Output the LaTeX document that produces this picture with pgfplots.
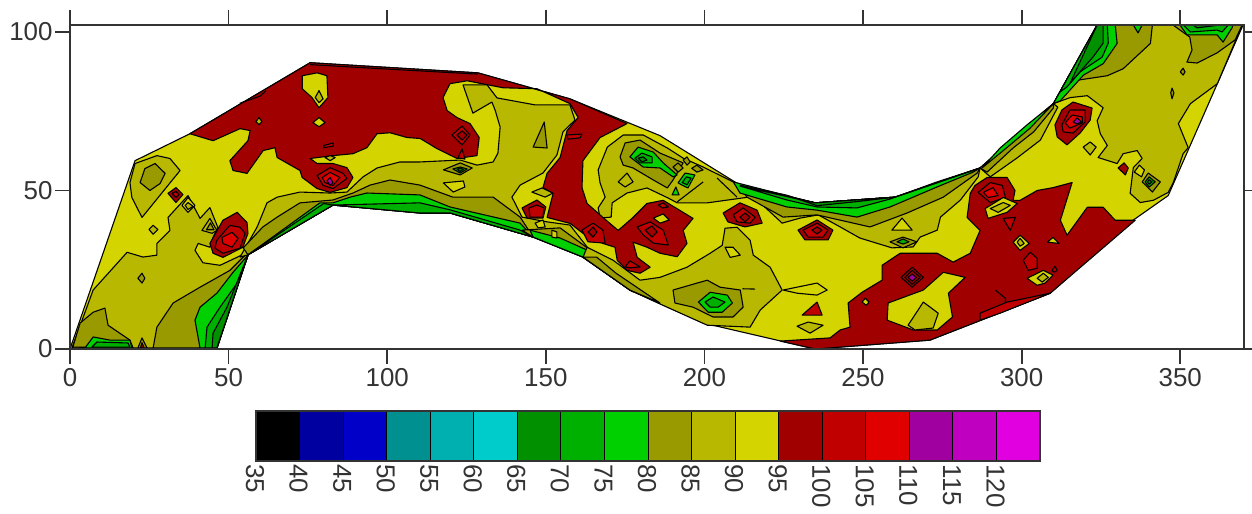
\documentclass[border=0pt]{standalone}
\usepackage{pgfplots}
\pgfplotsset{compat=1.18}
\usepackage{fontspec}
\setmainfont{Liberation Sans}
\definecolor{tx}{HTML}{333333}
\definecolor{c35}{HTML}{000000}
\definecolor{c40}{HTML}{0000A0}
\definecolor{c45}{HTML}{0000C8}
\definecolor{c50}{HTML}{009090}
\definecolor{c55}{HTML}{00B0B0}
\definecolor{c60}{HTML}{00CCCC}
\definecolor{gC}{HTML}{009000}
\definecolor{gB}{HTML}{00B000}
\definecolor{gA}{HTML}{00D000}
\definecolor{yC}{HTML}{999900}
\definecolor{yB}{HTML}{B8B800}
\definecolor{yY}{HTML}{D4D400}
\definecolor{rA}{HTML}{A00000}
\definecolor{rB}{HTML}{C00000}
\definecolor{rC}{HTML}{E00000}
\definecolor{pA}{HTML}{A000A0}
\definecolor{pB}{HTML}{C000C0}
\definecolor{pC}{HTML}{E000E0}
\newcommand{\p}[2]{\addplot[fill=#1,draw=black,line width=1.1bp,line join=round] coordinates {#2} --cycle;}
\newcommand{\li}[1]{\addplot[draw=black,line width=1.1bp,line join=round] coordinates {#1};}
\newcommand{\bin}[2]{\addplot[fill=#1,draw=black,line width=0.8bp] coordinates {(#2,0)(#2+5,0)(#2+5,1)(#2,1)} --cycle;}
\begin{document}
\begin{tikzpicture}
\useasboundingbox (0,0) rectangle (1252bp,514bp);
\begin{axis}[
  at={(70bp,165bp)},anchor=south west,scale only axis,width=1174bp,height=324bp,
  xmin=0,xmax=370.1,ymin=0,ymax=102.2,axis on top,
  xtick={0,50,...,350},ytick={0,50,100},
  tick align=outside,major tick length=15bp,
  axis line style={color=tx,line width=1.8bp},
  tick style={color=tx,line width=1.7bp},
  tick label style={font=\fontsize{26}{28}\selectfont,text=tx,/pgf/number format/assume math mode=true},
  xticklabel pos=bottom,yticklabel pos=left,
  x tick label style={yshift=-1bp},y tick label style={xshift=1bp},
]
% whole domain, 90-95 band
\p{yY}{(0,0)(20.5,59.4)(37.8,67.9)(75.7,90.3)(128.6,87.1)(157.6,78.9)(186,67.3)(211.2,51.7)(234.9,46.1)(260.1,47.9)(286.9,57.1)(310,77.4)(323.8,102.2)(369.8,102.2)(346.2,48.4)(335.1,40.6)(309,17.6)(271.1,2.8)(234.9,0)(199.6,8.2)(176.5,18.6)(161.7,29)(146,35.3)(119.8,42.9)(82.9,45.4)(56.1,29.7)(46.3,0)}
% lower-left region
\p{yB}{(0.6,0.3)(7.3,18.6)(18,30.5)(23,29)(27.4,29.6)(27.4,33.3)(31.5,37.4)(30.9,41.5)(37.2,48.4)(41,41.2)(44.1,44.6)(46.6,38.4)(45.1,35.2)(44.1,32.1)(40.4,33.3)(39.4,31.1)(41.9,27.2)(47.3,26.4)(52.6,28.9)(55.2,30.2)(56.1,29.6)(46.3,0.3)}
\p{yC}{(26.2,0.3)(27.4,6.9)(32.5,14.5)(41,19.5)(50.4,24.8)(55.2,29.6)(56.1,29.6)(46.3,0.3)}
\p{yC}{(0.9,0.6)(3.2,8.2)(7.3,11.6)(11,12.9)(12,7.5)(18.9,2.8)(19.9,0.3)}
\p{gA}{(4.7,0.3)(7.3,3.8)(12.6,2.8)(18.9,2.8)(19.5,0.3)}
\p{gB}{(6.9,0.6)(8.5,2.2)(18.3,1.9)(18.9,0.6)}
\p{yC}{(21.4,0.3)(22.7,3.5)(24.3,0.3)}
\p{rA}{(22.2,0.3)(22.7,2)(23.4,0.3)}
\p{gA}{(41,0.3)(39.4,9.1)(41,13.2)(46.3,17.6)(51.4,24.2)(56.1,29.6)(46.3,0.3)}
\p{gB}{(42.6,0.3)(43.2,6.9)(47.3,13.2)(52.7,20.8)(56.1,29.6)(46.3,0.3)}
\p{gC}{(44.8,0.3)(45.1,5)(49.5,13.2)(56.1,29.6)(46.3,0.3)}
\p{yB}{(18.9,52.5)(20.5,58.5)(27.4,61)(31.5,60.1)(34.7,56.3)(22.7,41.5)(19.5,47.8)}
\p{yC}{(22.1,52.5)(23.6,56.9)(26.8,58.5)(30,55.4)(28.4,52.2)(25.2,50)}
\p{rA}{(30.9,49.1)(33.4,50.9)(35.6,48.7)(33.4,46.2)}
\p{rB}{(32.2,49.1)(33.4,49.7)(34.4,48.7)(33.4,47.8)}
\p{yY}{(35.3,45.3)(37.2,47.8)(39.4,45.3)(37.2,43.1)}
\p{yB}{(36.3,45.3)(37.2,46.2)(38.8,45)(37.2,44)}
\p{yB}{(24.9,37.7)(26.2,39)(27.7,37.7)(26.2,36.2)}
\p{yC}{(21.4,22.3)(22.7,23.9)(23.6,22.3)(22.7,20.8)}
% lower band, x 56 to 163
\p{yB}{(56.1,29.7)(53.6,29)(59,38.5)(62.1,46.1)(65.3,47.9)(72.5,49.5)(82,49.2)(87.3,49.5)(92.4,54.3)(96.8,57.1)(104,59)(110.3,59)(123,59.6)(128.3,58)(133.4,59)(134.9,61.8)(135.6,70)(134,75.4)(133,77.9)(127,74.4)(123.9,83.3)(131.5,83.3)(134.6,79.2)(146.6,77)(157.6,77)(159.2,72.2)(155.4,68.5)(153.5,61.2)(149.1,55.5)(141.9,51.7)(139.3,47.9)(140.9,44.8)(142.5,41.6)(150.4,40.1)(157.6,39.1)(163,32.2)(161.7,29)(146,35.3)(119.8,42.9)(110.3,42.9)(82.9,45.4)}
\p{yC}{(56.1,29.7)(54.6,31.9)(60.8,38.5)(65.3,41.6)(72.5,46.1)(82.9,47)(89.2,49.2)(94.6,51.7)(100.9,53.3)(110.3,51.7)(120.7,47.9)(133.4,47.9)(141.9,41.6)(146,35.3)(119.8,42.9)(110.3,42.9)(82.9,45.4)}
\p{gA}{(56.1,29.7)(78.8,46.1)(82.9,46.1)(88.3,47.9)(93.6,49.2)(110.3,48.6)(119.8,44.8)(141.9,39.7)(146,35.3)(119.8,42.9)(110.3,42.9)(82.9,45.4)}
\p{gB}{(82.9,45.4)(110.3,46.1)(119.8,43.9)(141.9,37.5)(146,35.3)(119.8,42.9)(110.3,42.9)}
\p{gB}{(56.1,29.7)(80,45.9)(82.9,45.4)}
\p{yC}{(142.5,37.5)(154.5,38.2)(164,31.2)(173.4,22.7)(186,14.5)(176.5,18.6)(161.7,29)(146,35.3)}
\p{gA}{(145,37.5)(154.5,35)(163,31.2)(169.3,24.9)(177.5,18)(176.5,18.6)(161.7,29)(146,35.3)}
\p{yY}{(146.6,39.7)(149.1,40.7)(149.8,38.5)(147.6,38.2)}
\p{yY}{(151.9,37.5)(153.5,36.9)(153.5,35)(151.9,35.3)}
\p{yC}{(146,63.7)(149.5,71.6)(150.4,63.4)}
\p{yC}{(117.7,56.5)(123,58.7)(126.8,57.1)(123,54.9)}
\p{gB}{(120.7,56.8)(123,57.4)(125.2,56.8)(123,55.5)}
\p{gC}{(122,56.7)(123,57)(124,56.7)(123,56)}
\p{yY}{(117.7,52.4)(124,53)(124.5,51.1)(120.8,49.5)}
\p{yB}{(145.6,49.5)(148.8,50.8)(152.3,49.2)(149.8,47.9)}
% lower middle region
\p{yB}{(163,32.1)(171.2,28)(179.7,21.7)(186,22.6)(194.5,25.8)(201.8,30.2)(205.6,32.7)(206.5,38.1)(210.3,38.4)(214.4,34.3)(215.4,29.6)(220.7,25.8)(224.5,18.6)(217.6,12.3)(214.4,6.9)(200.9,7.5)(186,14.2)(176.5,18.6)(161.7,28.9)}
\p{yC}{(176.5,18.6)(161.7,29)(166,29)(172,24)(186,14.5)}
\p{yY}{(206.5,32.1)(208.1,28.9)(211.3,29.6)(209,32.1)}
\p{yC}{(190.1,18.6)(197.7,20.8)(200.9,21.7)(204.9,19.5)(211.3,18.6)(212.2,13.2)(209,10.1)(202.7,10.1)(196.4,13.2)(190.7,14.5)}
\p{gA}{(198.1,14.8)(201.8,17.9)(207.2,17)(208.8,14.5)(205.6,11.6)(201.2,11.6)}
\p{gB}{(200.2,14.8)(202.7,16.4)(206.5,14.8)(204.3,13.2)(201.8,13.2)}
\li{(212,19)(216,18.9)}
\p{yY}{(224.8,18.6)(235.5,20.8)(238.7,18.6)(235.5,17)(229.2,17.6)}
\p{rB}{(230.8,10.7)(235.5,14.8)(237.1,10.7)}
\p{yB}{(229.2,7.2)(232.7,8.5)(237.4,7.5)(233.3,5)}
% island between 165 and 215
\p{yB}{(166.5,56.5)(169.4,63.7)(174.4,67.5)(180.7,67.5)(188.3,63.4)(193.3,60.2)(199.6,57.4)(209.1,52.7)(213.9,47.9)(200.9,46.1)(191.4,46.1)(188.6,47.6)(181.9,50.8)(175.6,49.2)(170.9,46.1)(170.6,41.6)(167.1,41.3)(166.5,44.5)(168.7,47.9)(167.1,52.4)}
\p{yC}{(173.4,60.6)(175,65)(179.7,65.9)(186,61.8)(193.3,58.7)(190.1,53.3)(188.3,50.8)(183.9,53.3)(177.5,57.1)(174.4,58)}
\p{gA}{(176.5,60.6)(179.1,63.7)(183.9,62.1)(187,58.7)(191.4,54.9)(190.1,54.3)(186,57.1)(180.7,57.4)}
\p{gB}{(178.1,60.2)(180.3,61.8)(183.5,60.6)(183.5,58.7)(179.7,58.7)}
\p{gC}{(179.1,60.2)(180.7,60.6)(181.9,59.6)(180.3,59)}
\p{gA}{(191.7,52.4)(193.9,55.5)(197,54.9)(194.8,50.8)(192.9,51.7)}
\p{gB}{(193,52.5)(194.3,54.3)(195.8,53.9)(194.5,51.8)}
\p{gA}{(189.8,48.6)(191,51.1)(192,48.6)}
\p{yC}{(190.1,57.4)(191.7,58.7)(193.3,57.1)(191.7,55.8)}
\p{yC}{(193.3,59.6)(194.5,60.6)(195.5,59)(194.5,58)}
\p{yC}{(196,57)(197.6,58)(199.6,56.5)(197.6,55.8)}
\p{yB}{(172.8,52.7)(175.6,55.5)(177.5,52.7)(175,51.1)}
\li{(204,53.9)(210.3,47.9)}
\li{(199.6,52.7)(191.4,46.4)}
% upper band, x 211 to 287
\p{yB}{(211.2,51.7)(234.9,46.1)(260.1,47.9)(286.9,57.1)(286.3,54.3)(280.7,47)(274.4,41.6)(273.4,37.5)(268,35.3)(265.8,32.2)(259.1,31.9)(249,35)(242.8,38.5)(235.9,42.3)(230.2,41.3)(224.5,39.7)(217.6,46.1)(214.4,47.9)}
\p{yC}{(211.2,51.1)(234.9,46.1)(260.1,47.9)(286.9,57.1)(286,55.5)(275.3,47.9)(263.9,42.9)(252.2,38.5)(235.5,42.3)(224.8,41.6)(213.4,47.9)}
\p{gA}{(209.1,52.7)(234.9,46.1)(260.1,47.9)(286.9,57.1)(284.7,55.8)(273.3,51.1)(258.5,44.8)(248.1,41.6)(235.5,43.8)(226,44.8)(211.2,49.2)}
\p{gB}{(211.2,51.4)(234.9,46.1)(260.1,47.9)(286.9,57.1)(273.3,52.7)(258.5,47.3)(248.1,44.5)(235.5,44.8)(226,47)}
\p{gC}{(211.2,51.7)(234.9,46.1)(260.1,47.9)(248.1,46.5)(235.5,45.2)(226,48.5)}
\p{yY}{(259.1,37.5)(262.3,41.3)(265.5,37.5)}
\p{yC}{(258.5,33.8)(262.6,35.3)(267,33.8)(262.6,31.9)}
\p{gB}{(260.7,33.8)(262.6,34.7)(264.5,33.8)(262.6,33.1)}
% upper-right region
\p{yB}{(310,77.4)(315.3,79.3)(320.7,79.9)(325.7,76.1)(323.8,72)(324.8,67.9)(327,64.2)(324.1,60.4)(330.1,58.5)(332,61.6)(336.4,62.6)(338,60.1)(335.2,57.2)(334.2,49.1)(337.4,46.2)(341.5,46.9)(346.2,49.4)(347.8,52.5)(350.9,61.6)(352.5,63.5)(349.4,71.1)(353.2,77.4)(361.7,83.7)(369.5,102.2)(323.8,102.2)}
\p{yC}{(310,77.4)(316.4,84.6)(327,86.2)(332,88.4)(340.6,96.4)(341.2,102.2)(323.8,102.2)}
\p{gA}{(310,77.4)(312.2,78.3)(319.5,86.4)(325.7,90)(330.1,96.4)(329.5,102.2)(323.8,102.2)}
\p{gB}{(312,81)(314.3,82.7)(318.4,87.4)(325.4,92.1)(327.3,96.5)(327,102.2)(323.8,102.2)}
\p{gC}{(315.3,83.9)(322.5,92.1)(325.7,96.5)(325.7,102.2)(323.8,102.2)}
\p{gA}{(335.2,102.2)(336.7,99.7)(338,102.2)}
\p{yC}{(347.7,102.2)(353,98.4)(353.7,94.3)(352.1,90.5)(355.3,90.2)(361.6,93.4)(367.3,97.5)(369.5,102.2)}
\p{gA}{(349.9,102.2)(352.1,99.1)(361.6,99.1)(363.5,96.8)(366.3,101.3)(366.6,102.2)}
\p{gB}{(351,102.2)(353.2,100)(361.6,100.6)(363.2,100)(365.1,102.2)}
\p{gC}{(354,102.2)(355.3,101.3)(362.5,102.2)}
\p{yC}{(350.9,88.6)(351.5,87.4)(350.9,86.4)(350,87.4)}
\p{yC}{(347.4,82.3)(348,80.8)(347.4,78.9)(347,80.8)}
\p{yB}{(311.4,76.3)(305.9,65.9)(298.6,60.3)(290.1,54.3)(286.9,57.1)(310,77.4)}
\p{yC}{(310,76)(303.8,68.5)(297.3,63.4)(289.1,55.8)(286.9,57.1)(310,77.4)}
\p{gA}{(310,77.4)(302.7,69.7)(294.1,62.5)(287.5,57.1)(293.2,63.4)(301.7,70.7)}
\p{yB}{(319.4,63.7)(321.6,65.3)(323.5,63.7)(321.6,61.2)}
\p{rA}{(330.4,57.1)(332.3,58.7)(333.6,57.1)(332.7,54.9)}
\p{yY}{(335.5,55.8)(337.1,58)(338.7,56.5)(337.8,54.3)}
\p{yC}{(338,52.7)(339.9,55.5)(343.7,52.7)(341.2,49.5)}
\p{gB}{(338.9,52.7)(340.2,54.3)(342.1,52.7)(340.2,51.1)}
\p{gC}{(339.6,52.7)(340.2,53.4)(341.1,52.7)(340.2,52)}
% dark red, left and middle
\p{rA}{(37.8,67.9)(75.7,90.3)(128.6,87.1)(157.6,78.9)(175.6,71.1)(167.1,66.7)(161.7,59.4)(161.4,50.9)(163,45.9)(168,41.5)(172.8,37.4)(177.5,41.5)(181.9,45.9)(187,46.9)(196.4,41.2)(193.3,37.4)(194.5,33.3)(191.4,29.1)(186,30.2)(181.9,32.1)(177.5,33.7)(178.8,28.9)(182.9,25.8)(179.7,23.9)(175.6,24.8)(172.5,28)(171.8,32.1)(168,33.3)(161.7,36.5)(157.7,39.6)(150.4,41.5)(152.3,49.1)(149.1,50.9)(150.4,55.4)(154.5,60.4)(156.7,68.9)(160.2,73)(157.6,77.4)(147.2,82.1)(136.5,82.4)(125.2,84.6)(119.8,83.7)(117.6,79.3)(118.9,75.2)(122,73)(126.1,71.1)(129,66.7)(128.3,61)(122,60.1)(115.7,63.2)(110.4,66.4)(106.3,66.7)(100.9,68.2)(96.8,67.9)(93.6,63.5)(89.2,61.6)(82.9,61)(75.7,60.1)(77.9,58.5)(82.9,58.5)(87.3,57.2)(89.2,54.1)(87.3,50.9)(82,49.4)(77.9,50.6)(73.2,54.1)(72.5,56.3)(65.3,60.4)(64.6,63.5)(60.9,62.6)(55.8,55.4)(51.4,56.3)(50.4,59.4)(56.1,65.7)(56.8,68.9)(53.6,69.5)(45.1,65.7)}
\li{(75.7,89.7)(100,88.3)(128.6,86.7)}
\li{(53.5,77.5)(60,79.8)(61.8,81.5)}
\p{yY}{(73.2,86.2)(77.9,87.1)(81,86.2)(81.3,79.3)(78.5,76.1)(76.3,79.3)(73.2,82.1)}
\p{yB}{(77.3,79.3)(78.5,81.5)(79.8,78.9)(78.5,77.7)}
\p{yY}{(76.6,71.4)(78.5,73)(80.4,71.4)(78.5,70.1)}
\p{yB}{(58.6,71.7)(59.6,73)(60.5,71.7)(59.6,70.8)}
\p{rB}{(80,64.2)(83,65)(83,64)(80,63.5)}
\p{yB}{(80.4,60.4)(82,61)(83.6,60.4)(82,59.4)}
\p{rB}{(77.9,54.7)(82,57.2)(86.1,55.4)(87.3,53.8)(82.9,50.6)(79.8,51.6)}
\p{rC}{(79.5,54.1)(82,55.7)(85.1,54.1)(82.9,51.6)(80.4,52.5)}
\p{pA}{(81,53.1)(82,54.1)(82.9,52.5)(82,51.6)}
\p{rA}{(44.1,33.3)(48.2,40.6)(52.7,43.1)(55.8,39.9)(56.1,36.5)(54.5,32.1)(48.2,28.9)(45.1,30.2)}
\p{rB}{(46.3,34.3)(50.4,39)(53.6,38.4)(55.2,36.5)(53.6,31.8)(48.2,30.2)(45.7,31.8)}
\p{rC}{(47.9,35.2)(51.1,36.8)(53,34.9)(51.1,32.1)(48.2,33.3)}
\p{yB}{(41.6,37.4)(44.1,41.2)(46.3,37.4)(44.8,36.5)}
\p{yC}{(43,37.6)(44.3,39.8)(45.4,37.6)}
\p{rB}{(120.4,67.5)(123.6,70.3)(126.1,67.5)(123.6,64.4)}
\p{rA}{(122,67.5)(123.6,68.8)(125.2,67.5)(123.6,65.9)}
\p{rB}{(122.3,60.3)(123.6,63.1)(124.5,59.9)}
\p{rB}{(156.7,67.5)(161.4,67.8)(160.8,66.6)(157,66.2)}
\p{rA}{(142.5,44.5)(147.2,47)(150,44.8)(149.1,41.3)(144.1,41.3)}
\p{rB}{(144.7,44.5)(147.2,45.4)(149.4,44.5)(149.1,41.6)(145,41.6)}
\p{rB}{(161.4,37.5)(164.9,39.7)(168,37.5)(168.7,33.4)(163.3,33.8)}
\p{rA}{(163.3,36.9)(164.9,38.5)(166.1,36.9)(164.9,35.3)}
\p{rB}{(178.8,38.5)(182.9,40.1)(187,37.5)(188.6,32.8)(183.9,33.4)(180.7,36)}
\p{rA}{(181.3,37.5)(183.5,38.8)(185.1,36.9)(183.5,35.3)}
\p{yY}{(183.9,41.3)(187,42.6)(188.9,40.7)(186,39.7)}
\p{rB}{(185.5,45.4)(187,46.1)(188.6,44.8)(186.7,44.5)}
\p{rB}{(175,25.9)(176.5,27.8)(179.7,25.9)(176.5,25.6)}
% red spots in the upper band
\p{rA}{(205.9,42.9)(211.2,46.1)(216.6,43.8)(218.2,39.7)(212.8,38.5)(207.4,40.1)}
\p{rB}{(209.1,42.3)(212.2,44.5)(216,41.6)(214.4,39.7)(210.3,40.1)}
\p{rA}{(211.2,41.6)(212.8,42.9)(214.4,41.6)(212.8,40.1)}
\p{rA}{(229.5,37.5)(235.5,40.7)(240.5,37.5)(239,34.4)(231.7,34.4)}
\p{rB}{(231.1,37.5)(235.5,39.7)(239,37.5)(237.4,35.3)(232.7,35.3)}
\p{rA}{(233.9,37.5)(235.5,38.5)(237.1,37.5)(235.5,36.3)}
% dark red, right
\p{rA}{(245.9,6.9)(245.3,14.5)(249.7,17.9)(256,21.7)(256,26.4)(261.7,30.2)(273.4,30.2)(278.4,27.4)(283.8,30.2)(286.9,37.4)(282.8,41.5)(283.8,49.1)(285.3,51.6)(289.1,54.1)(295.4,54.1)(297.9,50)(297.3,46.9)(299.5,46.9)(304.9,50)(309.9,50.9)(315.9,52.5)(312.2,40.6)(314.3,35.9)(320.7,44.7)(325.7,44.7)(329.5,40.6)(335.8,40.6)(309,17.6)(271.1,2.8)(242.8,0.6)(234.9,0)(223.9,2.5)(239.6,3.5)(242.8,6)}
\p{rB}{(286.9,11.3)(295.4,14.8)(309,17.6)(293.2,11.3)(286.9,9.1)}
\li{(291.7,18.6)(294.9,16)(294.9,14.8)}
\p{yY}{(257.9,14.5)(269,18.6)(275.3,24.2)(282.2,22.6)(276.9,17.6)(278.2,10.1)(273.4,6)(265.8,6)(257.6,9.1)}
\p{yB}{(264.2,7.5)(269,14.8)(273.7,11.3)(272.1,6.6)(266.4,6)}
\p{yY}{(249.7,14.8)(250.7,16)(251.9,14.8)(251,13.8)}
\p{rA}{(262,22.6)(265.5,25.8)(269,22.6)(265.5,19.5)}
\p{rA}{(263.2,22.6)(265.5,24.8)(268,22.6)(265.5,20.4)}
\p{pA}{(264.2,22.6)(265.5,23.6)(266.8,22.6)(265.5,21.4)}
\p{yY}{(297.3,33.7)(299.5,35.9)(302.4,33.3)(299.5,31.1)}
\p{yB}{(298.6,33.7)(299.5,34.9)(300.8,33.3)(299.5,32.4)}
\p{yY}{(308.1,33.7)(309.9,35.2)(311.8,33.3)}
\p{rB}{(300.5,28)(302.7,30.5)(304.9,28.6)(304.9,25.5)(302.1,24.8)}
\p{yY}{(301.7,22.3)(306.8,24.8)(309.9,23.3)(307.4,20.8)(304.9,20.1)}
\p{yB}{(304.9,22.3)(306.8,23.9)(308.4,22.6)(306.5,21.1)}
\p{rB}{(309.6,24.8)(310.5,26.1)(311.2,24.8)(310.2,24.2)}
\p{rB}{(294.2,41.2)(298,41.5)(296.4,37.4)}
\p{rB}{(286.3,49.4)(290.1,52.5)(293.9,51.6)(294.9,47.8)(290.1,46.2)}
\p{rC}{(287.9,49.4)(291,50.9)(292.6,48.4)(289.5,47.8)}
\p{yY}{(288.5,44.3)(294.2,47.8)(298.6,45.9)(295.4,43.1)(289.4,41.2)}
\p{yB}{(290.1,44.3)(294.2,46.2)(296.4,45.3)(292.6,43.1)}
\p{rA}{(310.5,70.7)(312.7,75.4)(316.2,77.9)(322.2,76)(321.6,72.2)(318.4,68.1)(314.3,64.4)(311.2,66.9)}
\p{rB}{(312.7,70.7)(315.2,75.4)(320,75.4)(320,71.6)(316.2,68.1)(313.1,68.5)}
\p{rC}{(313.7,71.3)(315.9,73.8)(319.1,73.2)(319.1,71.3)(315.2,69.7)}
\p{pA}{(316.2,71.6)(317.5,72.9)(318.8,71.6)(317.5,71)}
\end{axis}
\begin{axis}[
  at={(256bp,53bp)},anchor=south west,scale only axis,width=784bp,height=50bp,
  xmin=35,xmax=125,ymin=0,ymax=1,axis on top,
  xtick={35,40,...,120},ytick=\empty,
  major tick length=0pt,
  axis line style={color=tx,line width=1.2bp},
  xticklabel pos=bottom,
  tick label style={font=\fontsize{26}{28}\selectfont,text=tx,/pgf/number format/assume math mode=true},
  x tick label style={rotate=-90,anchor=west,yshift=-1bp},
]
\bin{c35}{35}\bin{c40}{40}\bin{c45}{45}\bin{c50}{50}\bin{c55}{55}\bin{c60}{60}
\bin{gC}{65}\bin{gB}{70}\bin{gA}{75}\bin{yC}{80}\bin{yB}{85}\bin{yY}{90}
\bin{rA}{95}\bin{rB}{100}\bin{rC}{105}\bin{pA}{110}\bin{pB}{115}\bin{pC}{120}
\end{axis}
\end{tikzpicture}
\end{document}
